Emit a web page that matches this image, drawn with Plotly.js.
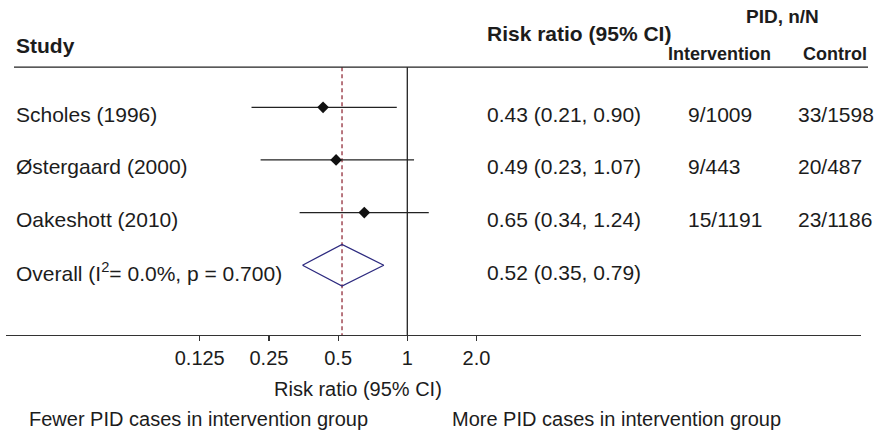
<!DOCTYPE html>
<html>
<head>
<meta charset="utf-8">
<script src="https://cdn.plot.ly/plotly-3.0.1.min.js"></script>
<style>
  html, body { margin: 0; padding: 0; background: #fff; }
  #chart { width: 877px; height: 434px; }
</style>
</head>
<body>
<div id="chart"></div>
<script>
// Trials of chlamydia screening: pelvic inflammatory disease (PID) outcomes
const studies = ["Scholes (1996)", "Østergaard (2000)", "Oakeshott (2010)"];
const riskRatio = [0.43, 0.49, 0.65];
const ciLow = [0.21, 0.23, 0.34];
const ciHigh = [0.90, 1.07, 1.24];
const interventionNN = ["9/1009", "9/443", "15/1191"];
const controlNN = ["33/1598", "20/487", "23/1186"];

const overallLabel = "Overall (I<sup>2</sup>= 0.0%, p = 0.700)";
const overallRR = 0.52;
const overallLow = 0.35;
const overallHigh = 0.79;

const tickValues = [0.125, 0.25, 0.5, 1, 2];
const tickLabels = ["0.125", "0.25", "0.5", "1", "2.0"];

// ---- layout geometry (pixels) ----
const W = 877, H = 434;
const M = { l: 6, r: 16, t: 0, b: 99 };
const plotW = W - M.l - M.r;
const plotH = H - M.t - M.b;
const px = p => (p - M.l) / plotW;          // pixel x -> paper x
const py = p => 1 - (p - M.t) / plotH;      // pixel y -> paper y

const FONT = "Liberation Sans, Arial, Helvetica, sans-serif";
const INK = "#1c1c1c";
const yTop = -0.762;      // header rule, in row units
const yBottom = 4.326;    // x-axis baseline, in row units
const overallRow = studies.length;
const diamondHalf = 0.395;

const fmt = v => v.toFixed(2);
const rrText = (r, l, h) => `${fmt(r)} (${fmt(l)}, ${fmt(h)})`;

const traces = [];

// line of no effect
traces.push({
  x: [1, 1], y: [yTop, yBottom], mode: "lines",
  line: { color: "#222", width: 1.3 }, hoverinfo: "skip"
});
// pooled estimate reference
traces.push({
  x: [overallRR, overallRR], y: [yTop, yBottom], mode: "lines",
  line: { color: "#8a1c2a", width: 1.2, dash: "4px,3px" }, hoverinfo: "skip"
});

// per-study confidence intervals and point estimates
studies.forEach((s, i) => {
  traces.push({
    x: [ciLow[i], ciHigh[i]], y: [i, i], mode: "lines",
    line: { color: "#222", width: 1.3 }, hoverinfo: "skip"
  });
});
traces.push({
  x: riskRatio, y: studies.map((_, i) => i), mode: "markers",
  marker: { symbol: "diamond", size: 9, color: "#111" }, hoverinfo: "skip"
});

// pooled diamond
traces.push({
  x: [overallLow, overallRR, overallHigh, overallRR, overallLow],
  y: [overallRow, overallRow - diamondHalf, overallRow, overallRow + diamondHalf, overallRow],
  mode: "lines", line: { color: "#2d2a7f", width: 1.3 }, hoverinfo: "skip"
});

const ann = [];
function txt(text, xPix, yRef, opts = {}) {
  ann.push(Object.assign({
    text, x: px(xPix), xref: "paper", xanchor: "left",
    showarrow: false, borderpad: 0,
    font: { family: FONT, size: 21, color: INK }
  }, yRef, opts));
}

// headers
const bold = (size) => ({ font: { family: FONT, size, color: INK, weight: 700 } });
txt("<b>Study</b>", 15, { y: py(46), yref: "paper", yanchor: "middle" }, bold(21));
txt("<b>Risk ratio (95% CI)</b>", 486, { y: py(33), yref: "paper", yanchor: "middle" }, bold(21));
txt("<b>PID, n/N</b>", 745, { y: py(17), yref: "paper", yanchor: "middle" }, bold(19));
txt("<b>Intervention</b>", 667, { y: py(54), yref: "paper", yanchor: "middle" }, bold(18));
txt("<b>Control</b>", 802, { y: py(54), yref: "paper", yanchor: "middle" }, bold(18));

// table rows
const rowShift = -7;
studies.forEach((s, i) => {
  const yr = { y: i, yref: "y", yanchor: "middle", yshift: rowShift };
  txt(s, 15, yr);
  txt(rrText(riskRatio[i], ciLow[i], ciHigh[i]), 486, yr);
  txt(interventionNN[i], 687, yr);
  txt(controlNN[i], 797, yr);
});
{
  const yr = { y: overallRow, yref: "y", yanchor: "middle", yshift: rowShift };
  txt(overallLabel, 15, yr);
  txt(rrText(overallRR, overallLow, overallHigh), 486, yr);
}

// axis caption and direction notes
ann.push({
  text: "Risk ratio (95% CI)", x: px(358), xref: "paper", xanchor: "center",
  y: py(389), yref: "paper", yanchor: "middle", showarrow: false,
  font: { family: FONT, size: 20, color: INK }
});
txt("Fewer PID cases in intervention group", 28, { y: py(419), yref: "paper", yanchor: "middle" },
  { font: { family: FONT, size: 20, color: INK } });
txt("More PID cases in intervention group", 451, { y: py(419), yref: "paper", yanchor: "middle" },
  { font: { family: FONT, size: 20, color: INK } });

const layout = {
  width: W, height: H,
  margin: M,
  paper_bgcolor: "#fff", plot_bgcolor: "#fff",
  showlegend: false,
  font: { family: FONT, color: INK },
  xaxis: {
    type: "log",
    range: [-1.746, 1.974],
    showgrid: false, zeroline: false,
    showline: true, linecolor: "#333", linewidth: 1.2,
    ticks: "outside", ticklen: 5, tickwidth: 1.2, tickcolor: "#333",
    tickvals: tickValues, ticktext: tickLabels,
    tickfont: { family: FONT, size: 20, color: INK },
    ticklabelstandoff: 0,
    fixedrange: true
  },
  yaxis: {
    range: [yBottom, yTop - 1.277],
    visible: false, showgrid: false, zeroline: false, fixedrange: true
  },
  shapes: [{
    type: "line", xref: "paper", yref: "y",
    x0: px(14), x1: px(868), y0: yTop, y1: yTop,
    line: { color: "#222", width: 1.3 }
  }],
  annotations: ann
};

Plotly.newPlot("chart", traces, layout, { staticPlot: true, displayModeBar: false });
</script>
</body>
</html>
